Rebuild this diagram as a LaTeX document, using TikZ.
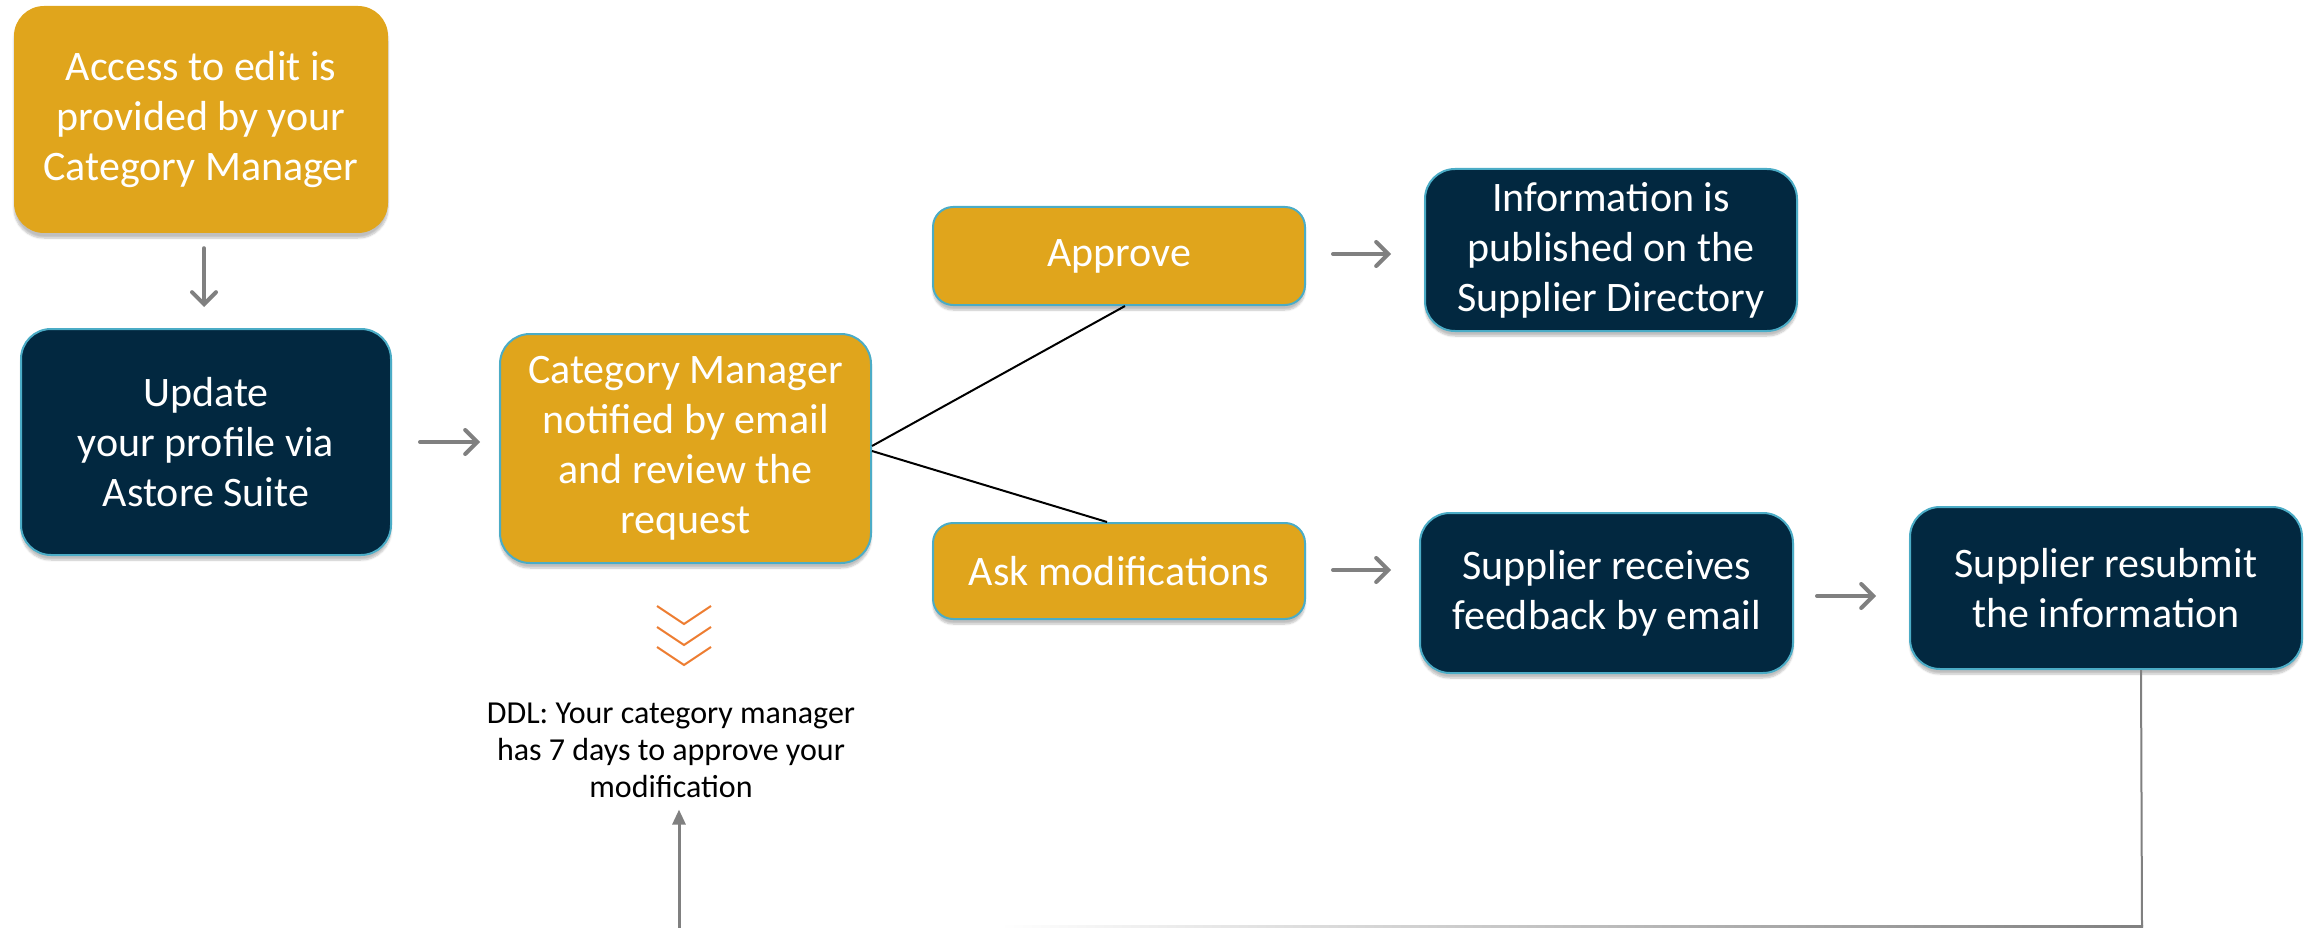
\documentclass[tikz,border=0pt]{standalone}
\usepackage{fontspec}
\setmainfont{Carlito}
\usetikzlibrary{arrows.meta,shadows.blur,calc}
\definecolor{gold}{RGB}{224,165,28}
\definecolor{navy}{RGB}{2,40,64}
\definecolor{edge}{RGB}{75,172,198}
\definecolor{garr}{RGB}{128,128,128}
\definecolor{chev}{RGB}{237,125,49}
\tikzset{
  basebox/.style={rounded corners=30pt, text=white, align=center, inner sep=0pt,
    font=\fontsize{42}{50}\selectfont,
    blur shadow={shadow xshift=0pt, shadow yshift=-5pt, shadow blur steps=6, shadow opacity=25}},
  goldbox/.style={basebox, fill=gold, draw=edge, line width=2pt},
  goldplain/.style={basebox, fill=gold},
  navybox/.style={basebox, fill=navy, draw=edge, line width=2pt},
  smallbox/.style={rounded corners=20pt},
  garrow/.style={draw=garr, line width=4pt, line cap=round, -{Straight Barb[length=12pt,width=24pt,line cap=round]}},
  thinline/.style={draw=black, line width=2pt},
  looparrow/.style={draw=garr, line width=3pt, -{Triangle[length=15pt,width=13pt]}},
  notetext/.style={align=center, text=black, font=\fontsize{32}{37}\selectfont, inner sep=0pt}
}
\begin{document}
\begin{tikzpicture}[x=1pt,y=-1pt]
\useasboundingbox (0,0) rectangle (2311,928);
\node[goldplain, minimum width=374pt, minimum height=227pt] (A) at (201,119.5)
  {Access to edit is\\provided by your\\Category Manager};
\node[navybox, minimum width=370pt, minimum height=226pt] (B) at (206,442)
  {Update\\your profile via\\Astore Suite};
\node[goldbox, minimum width=371pt, minimum height=229pt] (C) at (685.5,448.5)
  {Category Manager\\notified by email\\and review the\\request};
\node[goldbox, smallbox, minimum width=372pt, minimum height=98pt] (D) at (1119,256)
  {Approve};
\node[goldbox, smallbox, minimum width=372pt, minimum height=96pt] (E) at (1119,571)
  {Ask modifications};
\node[navybox, minimum width=372pt, minimum height=162pt] (F) at (1611,250)
  {Information is\\published on the\\Supplier Directory};
\node[navybox, minimum width=373pt, minimum height=160pt] (G) at (1606.5,593)
  {Supplier receives\\feedback by email};
\node[navybox, minimum width=392pt, minimum height=162pt] (H) at (2106,588)
  {Supplier resubmit\\the information};
\node[notetext] (ddl) at (671,750)
  {DDL: Your category manager\\has 7 days to approve your\\modification};
% arrows
\draw[garrow, shorten <=15pt, shorten >=21pt] (A.south -| 204,0) -- (B.north -| 204,0);
\draw[garrow, shorten <=28pt, shorten >=19pt] (B.east |- 0,442) -- (C.west |- 0,442);
\draw[garrow, shorten <=27pt, shorten >=33pt] (D.east |- 0,254) -- (F.west |- 0,254);
\draw[garrow, shorten <=27pt, shorten >=28pt] (E.east |- 0,570) -- (G.west |- 0,570);
\draw[garrow, shorten <=23pt, shorten >=33pt] (G.east |- 0,596) -- (H.west |- 0,596);
% decision lines
\draw[thinline] (C.east |- 0,446) -- (D.south -| 1125,0);
\draw[thinline] (C.east |- 0,451) -- (E.north -| 1107,0);
% chevrons
\foreach \t in {606,627,647}{
  \draw[chev, line width=2pt] (657,\t) -- (684,\t+18) -- (711,\t);
}
% loop back
\coordinate (loopcorner) at (2142,926.5);
\coordinate (loopstart) at (679,928);
\draw[garr, line width=2pt] (H.south -| 2141,0) -- (loopcorner);
\shade[left color=white, right color=garr] (1000,925.5) rectangle (2143,928);
\draw[looparrow, shorten >=12pt] (loopstart) -- (ddl.south -| loopstart);
\end{tikzpicture}
\end{document}
